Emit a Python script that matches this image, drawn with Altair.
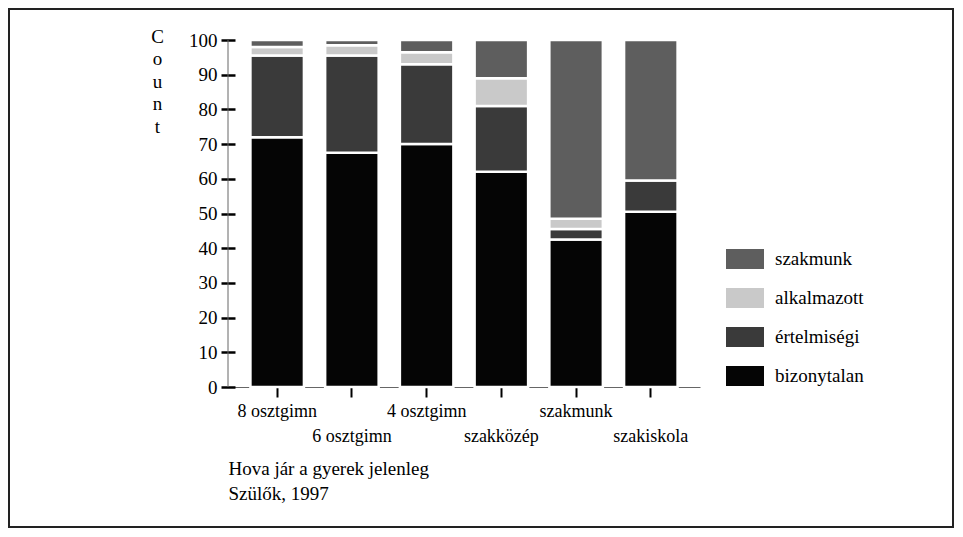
import altair as alt
import pandas as pd

categories = ['8 osztgimn', '6 osztgimn', '4 osztgimn', 'szakközép', 'szakmunk', 'szakiskola']
groups = ['szakmunk', 'alkalmazott', 'értelmiségi', 'bizonytalan']
bizonytalan = [72, 67.5, 70, 62, 42.5, 50.5]
ertelmisegi = [23.5, 28, 23, 19, 3, 9]
alkalmazott = [2.5, 3, 3.5, 8, 3, 0]
szakmunk = [2, 1.5, 3.5, 11, 51.5, 40.5]
colors = ['#5e5e5e', '#c9c9c9', '#3a3a3a', '#050505']

series = {'bizonytalan': bizonytalan, 'értelmiségi': ertelmisegi,
          'alkalmazott': alkalmazott, 'szakmunk': szakmunk}
stack_order = {'bizonytalan': 0, 'értelmiségi': 1, 'alkalmazott': 2, 'szakmunk': 3}
rows = []
for g, vals in series.items():
    for c, v in zip(categories, vals):
        if v > 0:
            rows.append({'cat': c, 'group': g, 'value': v, 'ord': stack_order[g]})
df = pd.DataFrame(rows)

lower = categories[1::2]
lower_list = ",".join("'" + s + "'" for s in lower)
label_expr = f"indexof([{lower_list}], datum.label) >= 0 ? ['', datum.label] : datum.label"

FONT = 'Liberation Serif'
INK = '#000'

bars = alt.Chart(df).mark_bar(stroke='white', strokeWidth=2.5).encode(
    x=alt.X('cat:N', sort=categories,
            scale=alt.Scale(paddingInner=0.284, paddingOuter=0.3),
            axis=alt.Axis(title=['Hova jár a gyerek jelenleg', 'Szülők, 1997'],
                          titleAnchor='start', titleAlign='left', titleX=0, titleY=87,
                          titleBaseline='alphabetic', titleLineHeight=25,
                          titleFont=FONT, titleFontSize=19, titleFontWeight='normal',
                          titleColor=INK,
                          labelAngle=0, labelExpr=label_expr, labelLineHeight=25,
                          labelPadding=5, labelBaseline='top',
                          labelFont=FONT, labelFontSize=18, labelColor=INK,
                          tickSize=10, tickWidth=2, tickColor=INK,
                          domainColor='#666', domainWidth=1)),
    y=alt.Y('value:Q', stack='zero',
            scale=alt.Scale(domain=[0, 100], nice=False),
            axis=alt.Axis(values=list(range(0, 101, 10)), offset=-7,
                          title=['C', 'o', 'u', 'n', 't'], titleAngle=0,
                          titleAlign='center', titleBaseline='top',
                          titleX=-78, titleY=-13, titleLineHeight=22.5,
                          titleFont=FONT, titleFontSize=19, titleFontWeight='normal',
                          titleColor=INK,
                          labelFont=FONT, labelFontSize=19, labelColor=INK,
                          labelPadding=4,
                          tickSize=14, tickWidth=2.5, tickColor=INK,
                          grid=False, domain=False)),
    color=alt.Color('group:N',
                    scale=alt.Scale(domain=groups, range=colors),
                    legend=alt.Legend(title=None, orient='none', legendX=498, legendY=200,
                                      symbolType='M-1,-0.52H1V0.52H-1Z', symbolSize=1444,
                                      symbolStrokeWidth=0, symbolOpacity=1,
                                      labelFont=FONT, labelFontSize=19, labelColor=INK,
                                      labelOffset=11, rowPadding=10, padding=0)),
    order=alt.Order('ord:Q', sort='ascending'),
)

yline = alt.Chart(pd.DataFrame({'a': [0]})).mark_rule(color='#666', strokeWidth=1).encode(
    x=alt.value(0), y=alt.value(0), y2=alt.value(347),
)

frame = alt.Chart(pd.DataFrame({'a': [0]})).mark_rect(
    fillOpacity=0, stroke='#222', strokeWidth=2
).encode(
    x=alt.value(-219), x2=alt.value(725),
    y=alt.value(-31), y2=alt.value(487),
)

chart = alt.layer(bars, yline, frame).properties(
    width=472, height=347,
    padding={'left': 220, 'top': 32, 'right': 255, 'bottom': 142},
    autosize=alt.AutoSizeParams(type='none'),
    background='white',
).configure_view(stroke=None)

chart.save('out.html', embed_options={'renderer': 'svg', 'actions': False})
